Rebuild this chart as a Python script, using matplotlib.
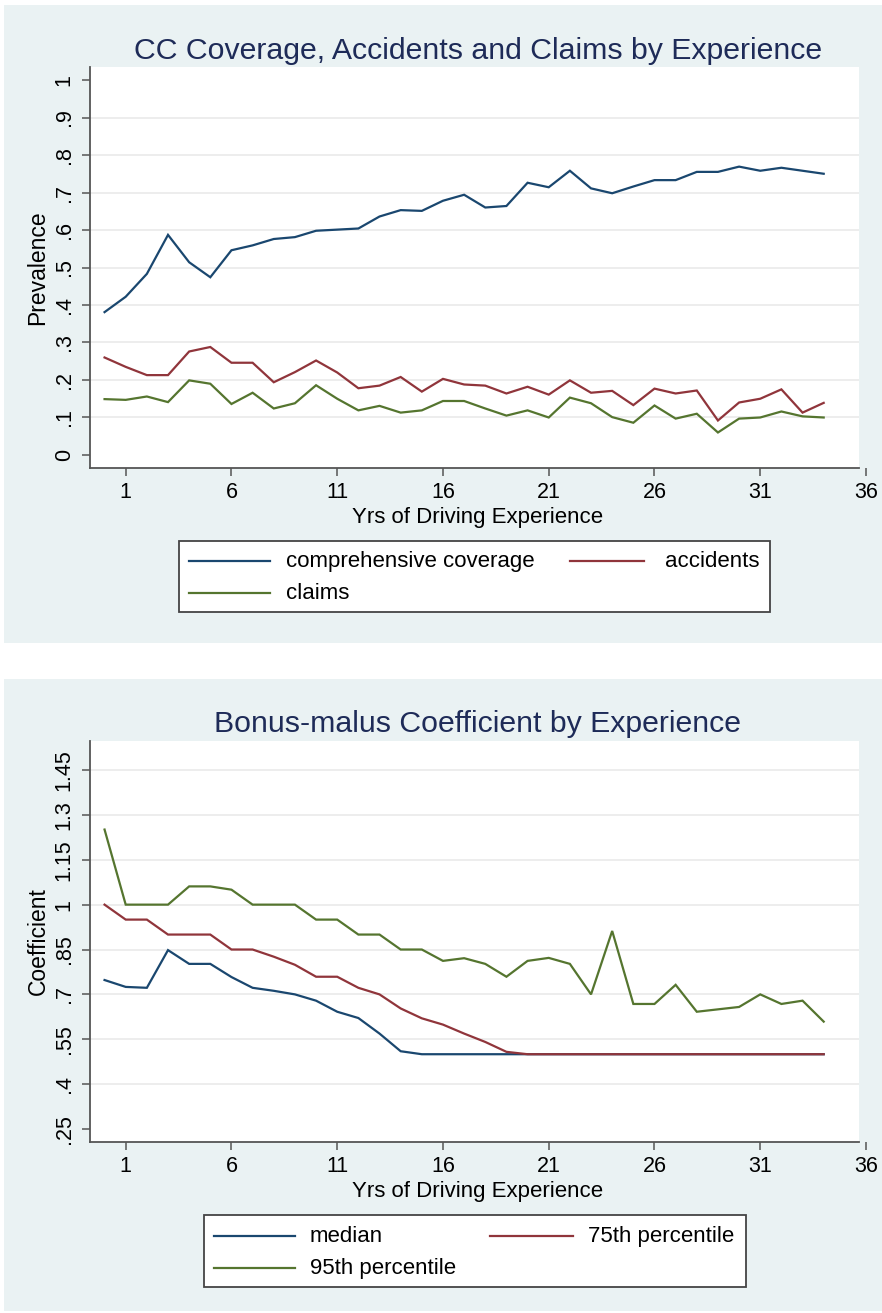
import matplotlib
matplotlib.use("Agg")
import matplotlib.pyplot as plt
from matplotlib.patches import Rectangle
from matplotlib.lines import Line2D

# data: years of driving experience 0..34
years = list(range(0, 35))

coverage = [0.381, 0.422, 0.483, 0.587, 0.514, 0.474, 0.546, 0.559, 0.576, 0.581,
            0.598, 0.601, 0.604, 0.636, 0.653, 0.651, 0.678, 0.694, 0.660, 0.664,
            0.726, 0.714, 0.758, 0.711, 0.698, 0.716, 0.733, 0.733, 0.755, 0.755,
            0.769, 0.758, 0.766, 0.758, 0.750]
accidents = [0.260, 0.235, 0.213, 0.213, 0.276, 0.288, 0.246, 0.246, 0.194, 0.221,
             0.252, 0.220, 0.178, 0.185, 0.208, 0.169, 0.203, 0.188, 0.185, 0.164,
             0.182, 0.161, 0.199, 0.166, 0.171, 0.133, 0.177, 0.164, 0.172, 0.092,
             0.140, 0.150, 0.175, 0.113, 0.139]
claims = [0.149, 0.147, 0.156, 0.141, 0.199, 0.190, 0.136, 0.166, 0.124, 0.138,
          0.186, 0.150, 0.119, 0.131, 0.113, 0.119, 0.144, 0.144, 0.124, 0.105,
          0.119, 0.100, 0.153, 0.138, 0.101, 0.086, 0.132, 0.097, 0.110, 0.060,
          0.097, 0.100, 0.116, 0.103, 0.100]

bm_median = [0.748, 0.725, 0.722, 0.848, 0.802, 0.802, 0.758, 0.722, 0.712, 0.700,
             0.679, 0.642, 0.621, 0.569, 0.510, 0.500, 0.500, 0.500, 0.500, 0.500,
             0.500, 0.500, 0.500, 0.500, 0.500, 0.500, 0.500, 0.500, 0.500, 0.500,
             0.500, 0.500, 0.500, 0.500, 0.500]
bm_p75 = [1.000, 0.950, 0.950, 0.900, 0.900, 0.900, 0.850, 0.850, 0.826, 0.799,
          0.759, 0.759, 0.722, 0.700, 0.653, 0.620, 0.599, 0.569, 0.541, 0.508,
          0.500, 0.500, 0.500, 0.500, 0.500, 0.500, 0.500, 0.500, 0.500, 0.500,
          0.500, 0.500, 0.500, 0.500, 0.500]
bm_p95 = [1.251, 1.000, 1.000, 1.000, 1.061, 1.061, 1.050, 1.000, 1.000, 1.000,
          0.950, 0.950, 0.900, 0.900, 0.850, 0.850, 0.812, 0.821, 0.802, 0.759,
          0.812, 0.822, 0.802, 0.700, 0.912, 0.668, 0.668, 0.732, 0.642, 0.650,
          0.658, 0.700, 0.668, 0.679, 0.609]

x_ticks = [1, 6, 11, 16, 21, 26, 31, 36]
prev_ticks = [0, 0.1, 0.2, 0.3, 0.4, 0.5, 0.6, 0.7, 0.8, 0.9, 1.0]
prev_labels = ["0", ".1", ".2", ".3", ".4", ".5", ".6", ".7", ".8", ".9", "1"]
coef_ticks = [0.25, 0.40, 0.55, 0.70, 0.85, 1.00, 1.15, 1.30, 1.45]
coef_labels = [".25", ".4", ".55", ".7", ".85", "1", "1.15", "1.3", "1.45"]

# stata s2color look
BG = "#eaf2f3"
NAVY = "#1a476f"
MAROON = "#90353b"
GREEN = "#55752f"
TITLE_C = "#1e2b58"
AXIS_C = "#555555"
GRID_C = "#eaeaea"

plt.rcParams["font.family"] = ["Liberation Sans", "DejaVu Sans"]

W, H = 882, 1313
fig = plt.figure(figsize=(W / 100, H / 100), dpi=100)
fig.patch.set_facecolor("white")


def box(x0, y0, x1, y1):
    return [x0 / W, 1 - y1 / H, (x1 - x0) / W, (y1 - y0) / H]


def fx(x):
    return x / W


def fy(y):
    return 1 - y / H


# panel backgrounds
for y0, y1 in [(5, 643), (679, 1311)]:
    fig.patches.append(Rectangle((fx(4), fy(y1)), fx(878), (y1 - y0) / H,
                                 transform=fig.transFigure, facecolor=BG,
                                 edgecolor="none", zorder=-5))

X0, X1, XPLOT = -0.688, 36.0, 35.67


def panel(rect, ylim, ticks, labels, grid_at, series, title, ylabel):
    ax = fig.add_axes(rect)
    ax.set_facecolor("none")
    ax.set_xlim(X0, X1)
    ax.set_ylim(*ylim)
    ax.add_patch(Rectangle((X0, ylim[0]), XPLOT - X0, ylim[1] - ylim[0],
                           facecolor="white", edgecolor="none", zorder=0))
    ax.hlines(grid_at, X0, XPLOT, colors=GRID_C, linewidth=1.2, zorder=1)
    for vals, col in series:
        ax.plot(years, vals, color=col, linewidth=1.6, zorder=3,
                solid_joinstyle="miter")
    for s in ["top", "right"]:
        ax.spines[s].set_visible(False)
    for s in ["left", "bottom"]:
        ax.spines[s].set_color(AXIS_C)
        ax.spines[s].set_linewidth(1.3)
    ax.spines["bottom"].set_bounds(X0, XPLOT)
    ax.set_xticks(x_ticks)
    ax.set_yticks(ticks)
    ax.set_yticklabels(labels, rotation=90, va="center")
    ax.tick_params(axis="x", length=6, width=1.1, color=AXIS_C, pad=4,
                   labelsize=15.5)
    ax.tick_params(axis="y", length=6, width=1.1, color=AXIS_C, pad=5,
                   labelsize=15.5)
    ax.set_xlabel("Yrs of Driving Experience", fontsize=16, labelpad=3)
    ax.set_ylabel(ylabel, fontsize=16.5, labelpad=3)
    ax.set_title(title, fontsize=21.8, color=TITLE_C, pad=6)
    return ax


top = panel(box(90, 67, 866, 468), (-0.0347, 1.0347), prev_ticks, prev_labels,
            prev_ticks[1:-1],
            [(coverage, NAVY), (accidents, MAROON), (claims, GREEN)],
            "CC Coverage, Accidents and Claims by Experience", "Prevalence")

bot = panel(box(90, 740.7, 866, 1142.3), (0.2056, 1.548), coef_ticks, coef_labels,
            coef_ticks[1:],
            [(bm_median, NAVY), (bm_p75, MAROON), (bm_p95, GREEN)],
            "Bonus-malus Coefficient by Experience", "Coefficient")


def legend_box(x0, y0, x1, y1, entries):
    fig.patches.append(Rectangle((fx(x0), fy(y1)), (x1 - x0) / W, (y1 - y0) / H,
                                 transform=fig.transFigure, facecolor="white",
                                 edgecolor="#444444", linewidth=1.3, zorder=5))
    for lx0, lx1, tx, ty, col, lab in entries:
        fig.lines.append(Line2D([fx(lx0), fx(lx1)], [fy(ty), fy(ty)],
                                transform=fig.transFigure, color=col,
                                linewidth=1.6, zorder=6))
        fig.text(fx(tx), fy(ty + 6), lab, fontsize=16, va="baseline",
                 ha="left", zorder=6)


legend_box(179, 541, 770, 612, [
    (189, 270, 286, 561, NAVY, "comprehensive coverage"),
    (570, 644, 665, 561, MAROON, "accidents"),
    (189, 270, 286, 593, GREEN, "claims"),
])

legend_box(204, 1215, 746, 1287, [
    (214, 295, 310, 1236, NAVY, "median"),
    (490, 573, 588, 1236, MAROON, "75th percentile"),
    (214, 295, 310, 1268, GREEN, "95th percentile"),
])

fig.savefig("out.png", dpi=100, facecolor="white")
